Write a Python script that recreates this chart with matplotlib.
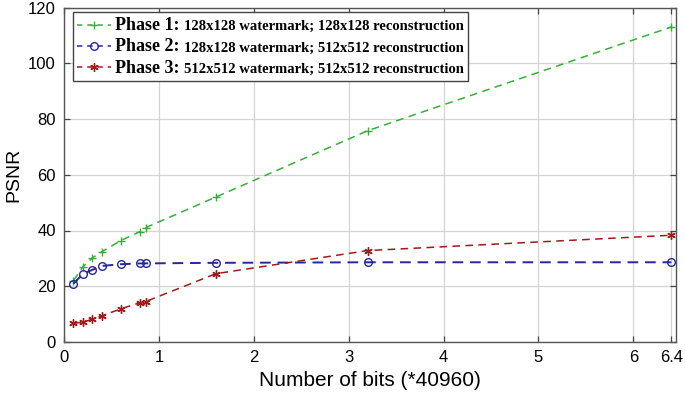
import matplotlib
matplotlib.use("Agg")
import matplotlib.pyplot as plt
from matplotlib.lines import Line2D
from matplotlib.offsetbox import DrawingArea, TextArea, HPacker, VPacker, AnchoredOffsetbox

# ---- data ----
bits = [0.1, 0.2, 0.3, 0.4, 0.6, 0.8, 0.86, 1.6, 3.2, 6.4]
phase1 = [22.0, 27.0, 30.2, 32.4, 36.4, 39.6, 41.0, 52.0, 75.8, 113.0]
phase2 = [20.9, 24.5, 25.9, 27.3, 27.9, 28.2, 28.2, 28.4, 28.6, 28.6]
phase3 = [6.7, 7.1, 8.2, 9.4, 11.9, 14.1, 14.5, 24.5, 32.8, 38.3]
xticks = [0, 1, 2, 3, 4, 5, 6, 6.4]
xtick_labels = ["0", "1", "2", "3", "4", "5", "6", "6.4"]
yticks = [0, 20, 40, 60, 80, 100, 120]
legend_heads = ["Phase 1:", "Phase 2:", "Phase 3:"]
legend_tails = ["128x128 watermark; 128x128 reconstruction",
                "128x128 watermark; 512x512 reconstruction",
                "512x512 watermark; 512x512 reconstruction"]

green = "#35b035"
blue = "#27279a"
red = "#a01a1a"

fig = plt.figure(figsize=(6.85, 4.03), dpi=100)
ax = fig.add_axes([64/685, 1-342/403, (676-64)/685, (342-7.5)/403])

dash = (5, 3.5)
ax.plot(bits, phase1, ls="--", dashes=dash, color=green, lw=1.1, marker="+", ms=6, mew=1.0, zorder=3)
ax.plot(bits, phase2, ls="--", dashes=(5.5, 3.5), color=blue, lw=1.4, marker="o", ms=5.5, mew=1.0,
        mfc="none", zorder=3)
ax.plot(bits, phase3, ls="--", dashes=dash, color=red, lw=1.1, marker=(6, 2, 0), ms=6, mew=1.0, zorder=3)

ax.set_xlim(0, 6.45)
ax.set_ylim(0, 120)
ax.set_xticks(xticks)
ax.set_xticklabels(xtick_labels)
ax.set_yticks(yticks)
ax.grid(True, color="#d4d4d4", lw=0.9)
ax.set_axisbelow(True)
for s in ax.spines.values():
    s.set_color("#555555")
    s.set_linewidth(1.0)
ax.tick_params(direction="in", top=True, right=True, length=4.5, width=0.9, color="#444444",
               labelsize=12, pad=6)
for lab in ax.get_xticklabels() + ax.get_yticklabels():
    lab.set_family("Liberation Sans")
ax.set_xlabel("Number of bits (*40960)", fontsize=15, family="Liberation Sans", labelpad=4)
ax.set_ylabel("PSNR", fontsize=14, family="Liberation Sans", labelpad=4)

# ---- legend (mixed font sizes) ----
styles = [
    dict(color=green, marker="+", ms=6, mew=1.0, lw=1.1),
    dict(color=blue, marker="o", ms=5.5, mew=1.0, lw=1.1, mfc="none"),
    dict(color=red, marker=(6, 2, 0), ms=6, mew=1.0, lw=1.1),
]
rows = []
for head, tail, st in zip(legend_heads, legend_tails, styles):
    da = DrawingArea(24, 10, 0, 0)
    st2 = dict(st)
    mk = dict(marker=st2.pop("marker"), ms=st2.pop("ms"), mew=st2.pop("mew"),
              mfc=st2.pop("mfc", st["color"]))
    da.add_artist(Line2D([0, 24], [4, 4], ls="--", dashes=(3.5, 3.2), dash_joinstyle="miter",
                         color=st2["color"], lw=st2["lw"]))
    da.add_artist(Line2D([12], [4], ls="none", color=st["color"], **mk))
    t1 = TextArea(head, textprops=dict(family="Liberation Serif", weight="bold", size=13))
    t2 = TextArea(tail, textprops=dict(family="Liberation Serif", weight="bold", size=10.5))
    rows.append(HPacker(children=[da, t1, t2], align="baseline", pad=0, sep=3))
box = VPacker(children=rows, align="left", pad=0, sep=2.3)
anch = AnchoredOffsetbox(loc="upper left", child=box, pad=0.32, borderpad=0, frameon=True,
                         bbox_to_anchor=(73/685, 1-12/403), bbox_transform=fig.transFigure)
anch.patch.set_boxstyle("square", pad=0)
anch.patch.set_edgecolor("#444444")
anch.patch.set_linewidth(1.0)
ax.add_artist(anch)

fig.savefig("out.png", dpi=100)
